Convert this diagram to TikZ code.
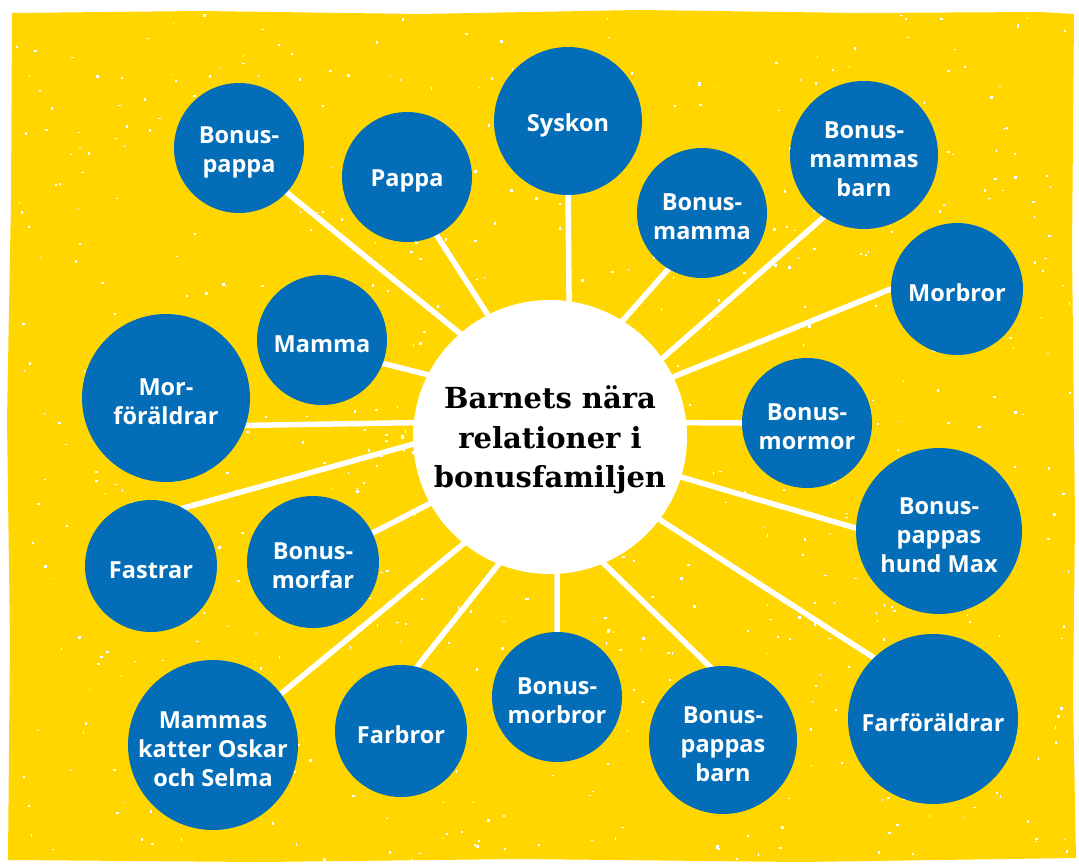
\documentclass[tikz,border=0pt]{standalone}
\usepackage{fontspec}
\newfontfamily\blobfont{Open Sans}
\newfontfamily\hubfont{DejaVu Serif}
\definecolor{ybg}{RGB}{255,214,0}
\definecolor{bblue}{RGB}{3,110,183}
\pgfdeclarelayer{back}
\pgfdeclarelayer{mid}
\pgfsetlayers{back,mid,main}
\begin{document}
\begin{tikzpicture}[x=1pt,y=-1pt,
  disc/.style={circle,fill=bblue,inner sep=0pt,minimum size=130pt},
  lbl/.style={inner sep=0pt,text=white,
    font=\blobfont\bfseries\fontsize{23.5}{29}\selectfont,align=center},
  hub/.style={circle,fill=white,inner sep=0pt,minimum size=274pt},
  hublbl/.style={inner sep=0pt,text=black,
    font=\hubfont\bfseries\fontsize{29}{39.5}\selectfont,align=center},
  spoke/.style={white,line width=5.5pt,shorten <=-2pt,shorten >=-2pt},
  speck/.style={white}]

\useasboundingbox (0,0) rectangle (1079,865);

\begin{pgfonlayer}{back}
  \fill[white] (0,0) rectangle (1079,865);
  \fill[ybg] (12,13) -- (200,11) -- (420,14) -- (640,10) -- (860,13) -- (1040,12)
    -- (1074,14) -- (1072,250) -- (1075,520) -- (1073,700) -- (1076,858)
    -- (800,862) -- (520,859) -- (260,862) -- (8,860) -- (10,640) -- (7,420)
    -- (11,200) -- cycle;
  \pgfmathsetseed{4711}
  \foreach \i in {1,...,700}{
    \pgfmathsetmacro{\px}{12+1060*rnd}
    \pgfmathsetmacro{\py}{14+845*rnd}
    \pgfmathsetmacro{\pw}{1+2.2*rnd}
    \pgfmathsetmacro{\ph}{1+2.2*rnd}
    \fill[speck] (\px,\py) rectangle ++(\pw,\ph);
  }
\end{pgfonlayer}

\node[hub] (c) at (550,437) {};
\node[hublbl] (ct) at ([yshift=-3pt]c.center) {Barnets nära\\relationer i\\bonusfamiljen};

\node[disc] (bp) at (239,148) {};
\node[lbl] (bpt) at ([yshift=-4pt]bp.center) {Bonus-\\pappa};
\node[disc] (p) at (407,177) {};
\node[lbl] (pt) at ([yshift=-4pt]p.center) {Pappa};
\node[disc,minimum size=148pt] (s) at (568,121) {};
\node[lbl] (st) at ([yshift=-4pt]s.center) {Syskon};
\node[disc] (bm) at (702,213) {};
\node[lbl] (bmt) at ([yshift=-4pt]bm.center) {Bonus-\\mamma};
\node[disc,minimum size=148pt] (bmb) at (864,155) {};
\node[lbl] (bmbt) at ([yshift=-4pt]bmb.center) {Bonus-\\mammas\\barn};
\node[disc,minimum size=132pt] (mb) at (957,289) {};
\node[lbl] (mbt) at ([yshift=-4pt]mb.center) {Morbror};
\node[disc] (m) at (322,340) {};
\node[lbl] (mt) at ([yshift=-4pt]m.center) {Mamma};
\node[disc,minimum size=168pt] (mf) at (166,398) {};
\node[lbl] (mft) at ([yshift=-4pt]mf.center) {Mor-\\föräldrar};
\node[disc] (bmm) at (807,423) {};
\node[lbl] (bmmt) at ([yshift=-4pt]bmm.center) {Bonus-\\mormor};
\node[disc,minimum size=166pt] (bph) at (939,531) {};
\node[lbl] (bpht) at ([yshift=-4pt]bph.center) {Bonus-\\pappas\\hund Max};
\node[disc,minimum size=132pt] (fa) at (151,566) {};
\node[lbl] (fat) at ([yshift=-4pt]fa.center) {Fastrar};
\node[disc,minimum size=132pt] (bmf) at (313,562) {};
\node[lbl] (bmft) at ([yshift=-4pt]bmf.center) {Bonus-\\morfar};
\node[disc,minimum size=170pt] (mk) at (213,745) {};
\node[lbl] (mkt) at ([yshift=-4pt]mk.center) {Mammas\\katter Oskar\\och Selma};
\node[disc,minimum size=132pt] (fb) at (401,731) {};
\node[lbl] (fbt) at ([yshift=-4pt]fb.center) {Farbror};
\node[disc] (bmo) at (557,697) {};
\node[lbl] (bmot) at ([yshift=-4pt]bmo.center) {Bonus-\\morbror};
\node[disc,minimum size=148pt] (bpb) at (723,740) {};
\node[lbl] (bpbt) at ([yshift=-4pt]bpb.center) {Bonus-\\pappas\\barn};
\node[disc,minimum size=170pt] (ff) at (933,719) {};
\node[lbl] (fft) at ([yshift=-4pt]ff.center) {Farföräldrar};

\begin{pgfonlayer}{mid}
  \draw[spoke] (c.131) -- (bp.-43);
  \draw[spoke] (c.117) -- (p.-63);
  \draw[spoke] (c.82.5) -- (s.-90);
  \draw[spoke] (c.58) -- (bm.-121);
  \draw[spoke] (c.35) -- (bmb.-123);
  \draw[spoke] (c.26) -- (mb.180);
  \draw[spoke] (c.6) -- (bmm.180);
  \draw[spoke] (c.-17.5) -- (bph.178);
  \draw[spoke] (c.-37.5) -- (ff.134.5);
  \draw[spoke] (c.-67) -- (bpb.100);
  \draw[spoke] (c.-87) -- (bmo.90);
  \draw[spoke] (c.-112.5) -- (fb.76);
  \draw[spoke] (c.-129) -- (mk.37.5);
  \draw[spoke] (c.-151.6) -- (bmf.26);
  \draw[spoke] (c.-177.5) -- (fa.61.5);
  \draw[spoke] (c.174) -- (mf.-19.5);
  \draw[spoke] (c.153) -- (m.-21);
\end{pgfonlayer}
\end{tikzpicture}
\end{document}
